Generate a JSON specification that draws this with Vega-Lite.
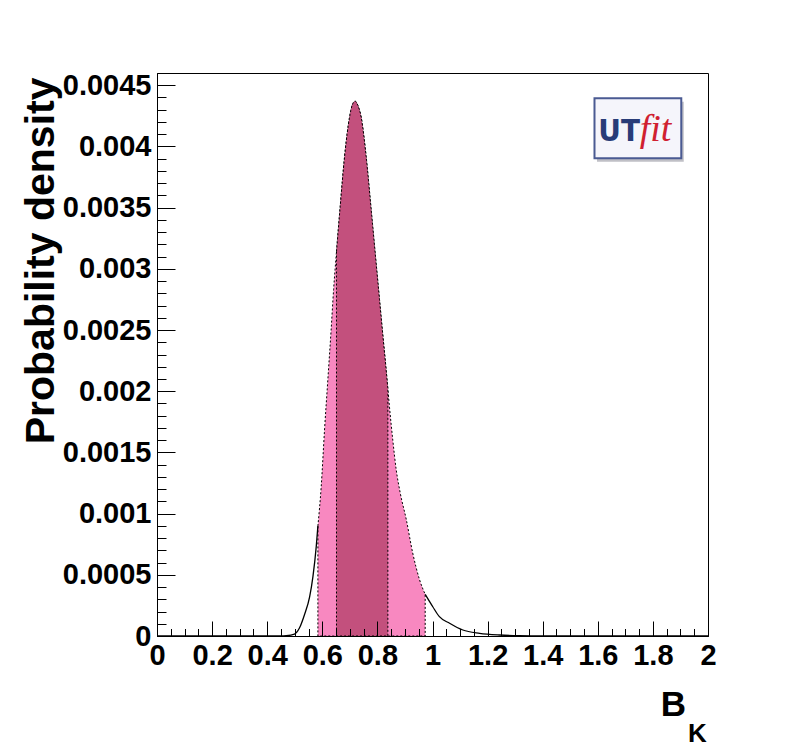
{
  "$schema": "https://vega.github.io/schema/vega-lite/v6.json",
  "width": 551,
  "height": 563,
  "autosize": "none",
  "padding": {"left": 157, "top": 73, "right": 80, "bottom": 113},
  "background": "white",
  "config": {
    "view": {"stroke": "black", "strokeWidth": 1},
    "axis": {
      "labelFont": "Liberation Sans",
      "labelFontWeight": "bold",
      "titleFont": "Liberation Sans",
      "titleFontWeight": "bold",
      "labelColor": "black",
      "titleColor": "black",
      "domainColor": "black",
      "tickColor": "black",
      "grid": false
    }
  },
  "datasets": {
    "pdf": [
      {"x": 0, "y": 0},
      {"x": 0.4, "y": 0},
      {"x": 0.45, "y": 0},
      {"x": 0.469, "y": 0.000002},
      {"x": 0.499, "y": 0.000016},
      {"x": 0.517, "y": 0.000065},
      {"x": 0.535, "y": 0.000172},
      {"x": 0.554, "y": 0.000319},
      {"x": 0.566, "y": 0.000485},
      {"x": 0.578, "y": 0.00073},
      {"x": 0.584, "y": 0.000899},
      {"x": 0.596, "y": 0.00122},
      {"x": 0.608, "y": 0.00168},
      {"x": 0.62, "y": 0.00209},
      {"x": 0.632, "y": 0.0025},
      {"x": 0.641, "y": 0.00283},
      {"x": 0.6515, "y": 0.00314},
      {"x": 0.665, "y": 0.00351},
      {"x": 0.681, "y": 0.00392},
      {"x": 0.699, "y": 0.00424},
      {"x": 0.709, "y": 0.00434},
      {"x": 0.719, "y": 0.00437},
      {"x": 0.73, "y": 0.00433},
      {"x": 0.741, "y": 0.00424},
      {"x": 0.759, "y": 0.00392},
      {"x": 0.7775, "y": 0.00348},
      {"x": 0.7956, "y": 0.00304},
      {"x": 0.8076, "y": 0.00275},
      {"x": 0.8196, "y": 0.00246},
      {"x": 0.8294, "y": 0.00223},
      {"x": 0.838, "y": 0.00202},
      {"x": 0.8439, "y": 0.00187},
      {"x": 0.8559, "y": 0.0016},
      {"x": 0.8682, "y": 0.00136},
      {"x": 0.8828, "y": 0.00117},
      {"x": 0.905, "y": 0.00095},
      {"x": 0.928, "y": 0.00068},
      {"x": 0.953, "y": 0.00046},
      {"x": 0.9735, "y": 0.00034},
      {"x": 1.001, "y": 0.000239},
      {"x": 1.025, "y": 0.000158},
      {"x": 1.062, "y": 0.000104},
      {"x": 1.11, "y": 0.000049},
      {"x": 1.171, "y": 0.000022},
      {"x": 1.243, "y": 0.000008},
      {"x": 1.316, "y": 0.000002},
      {"x": 1.4, "y": 0},
      {"x": 2.0, "y": 0}
    ]
  },
  "resolve": {"axis": {"x": "independent", "y": "independent"}},
  "layer": [
    {
      "layer": [
        {
          "data": {"name": "pdf"},
          "transform": [{"filter": "datum.x >= 0.584 && datum.x <= 0.9735"}],
          "mark": {"type": "area", "interpolate": "monotone", "fill": "#F888C0", "stroke": "black", "strokeDash": [2, 2], "strokeWidth": 1},
          "encoding": {
            "x": {
              "field": "x", "type": "quantitative",
              "scale": {"domain": [0, 2], "nice": false, "zero": false},
              "axis": {
                "orient": "bottom",
                "values": [0, 0.2, 0.4, 0.6, 0.8, 1, 1.2, 1.4, 1.6, 1.8, 2],
                "format": "~g",
                "tickSize": -15,
                "tickWidth": 1,
                "labelFontSize": 29,
                "labelPadding": 20,
                "labelOverlap": false,
                "labelBound": false,
                "labelFlush": false,
                "zindex": 1,
                "title": "B",
                "titleFontSize": 35,
                "titleAlign": "right",
                "titleBaseline": "alphabetic",
                "titleX": 528.5,
                "titleY": 79
              }
            },
            "y": {
              "field": "y", "type": "quantitative",
              "scale": {"domain": [0, 0.0046], "nice": false},
              "axis": {
                "orient": "left",
                "values": [0, 0.0005, 0.001, 0.0015, 0.002, 0.0025, 0.003, 0.0035, 0.004, 0.0045],
                "format": "~g",
                "tickSize": -18,
                "tickWidth": 1,
                "labelFontSize": 29,
                "labelPadding": 24,
                "labelOverlap": false,
                "labelBound": false,
                "labelFlush": false,
                "zindex": 1,
                "title": "Probability density",
                "titleFontSize": 41,
                "titleAngle": -90,
                "titleAlign": "right",
                "titleBaseline": "alphabetic",
                "titleX": -103.5,
                "titleY": 4
              }
            }
          }
        },
        {
          "data": {"name": "pdf"},
          "transform": [{"filter": "datum.x >= 0.6515 && datum.x <= 0.838"}],
          "mark": {"type": "area", "interpolate": "monotone", "fill": "#C3507D", "stroke": "black", "strokeDash": [2, 2], "strokeWidth": 1},
          "encoding": {
            "x": {"field": "x", "type": "quantitative"},
            "y": {"field": "y", "type": "quantitative"}
          }
        },
        {
          "data": {"name": "pdf"},
          "transform": [{"filter": "datum.x <= 0.584"}],
          "mark": {"type": "line", "interpolate": "monotone", "color": "black", "strokeWidth": 1.3},
          "encoding": {
            "x": {"field": "x", "type": "quantitative"},
            "y": {"field": "y", "type": "quantitative"}
          }
        },
        {
          "data": {"name": "pdf"},
          "transform": [{"filter": "datum.x >= 0.9735"}],
          "mark": {"type": "line", "interpolate": "monotone", "color": "black", "strokeWidth": 1.3},
          "encoding": {
            "x": {"field": "x", "type": "quantitative"},
            "y": {"field": "y", "type": "quantitative"}
          }
        },
        {
          "data": {"values": [{}]},
          "mark": {"type": "rect", "fill": "#b0b0b8", "opacity": 0.8},
          "encoding": {
            "x": {"datum": 1.597}, "x2": {"datum": 1.912},
            "y": {"datum": 0.003875}, "y2": {"datum": 0.004365}
          }
        },
        {
          "data": {"values": [{}]},
          "mark": {"type": "rect", "fill": "#f5f5fb", "stroke": "#4a5a92", "strokeWidth": 2},
          "encoding": {
            "x": {"datum": 1.588}, "x2": {"datum": 1.903},
            "y": {"datum": 0.003903}, "y2": {"datum": 0.004393}
          }
        },
        {
          "data": {"values": [{}]},
          "mark": {"type": "text", "text": "UT", "font": "DejaVu Sans Condensed, DejaVu Sans", "fontWeight": "bold", "fontSize": 31, "color": "#283c78", "align": "left", "baseline": "alphabetic"},
          "encoding": {"x": {"datum": 1.602}, "y": {"datum": 0.004045}}
        },
        {
          "data": {"values": [{}]},
          "mark": {"type": "text", "text": "fit", "font": "Liberation Serif", "fontStyle": "italic", "fontSize": 38, "color": "#d02030", "align": "left", "baseline": "alphabetic"},
          "encoding": {"x": {"datum": 1.752}, "y": {"datum": 0.004045}}
        }
      ]
    },
    {
      "data": {"name": "pdf"},
      "mark": {"type": "point", "opacity": 0},
      "encoding": {
        "x": {
          "field": "x", "type": "quantitative",
          "axis": {
            "orient": "bottom",
            "values": [0.05, 0.1, 0.15, 0.25, 0.3, 0.35, 0.45, 0.5, 0.55, 0.65, 0.7, 0.75, 0.85, 0.9, 0.95, 1.05, 1.1, 1.15, 1.25, 1.3, 1.35, 1.45, 1.5, 1.55, 1.65, 1.7, 1.75, 1.85, 1.9, 1.95],
            "labels": false,
            "domain": false,
            "tickSize": -7.5,
            "tickWidth": 1,
            "zindex": 1,
            "title": "K",
            "titleFontSize": 26,
            "titleAlign": "left",
            "titleBaseline": "alphabetic",
            "titleX": 530.5,
            "titleY": 105
          }
        },
        "y": {
          "field": "y", "type": "quantitative",
          "axis": {
            "orient": "left",
            "values": [0.0001, 0.0002, 0.0003, 0.0004, 0.0006, 0.0007, 0.0008, 0.0009, 0.0011, 0.0012, 0.0013, 0.0014, 0.0016, 0.0017, 0.0018, 0.0019, 0.0021, 0.0022, 0.0023, 0.0024, 0.0026, 0.0027, 0.0028, 0.0029, 0.0031, 0.0032, 0.0033, 0.0034, 0.0036, 0.0037, 0.0038, 0.0039, 0.0041, 0.0042, 0.0043, 0.0044, 0.0046],
            "labels": false,
            "domain": false,
            "tickSize": -9,
            "tickWidth": 1,
            "zindex": 1,
            "title": null
          }
        }
      }
    }
  ]
}
